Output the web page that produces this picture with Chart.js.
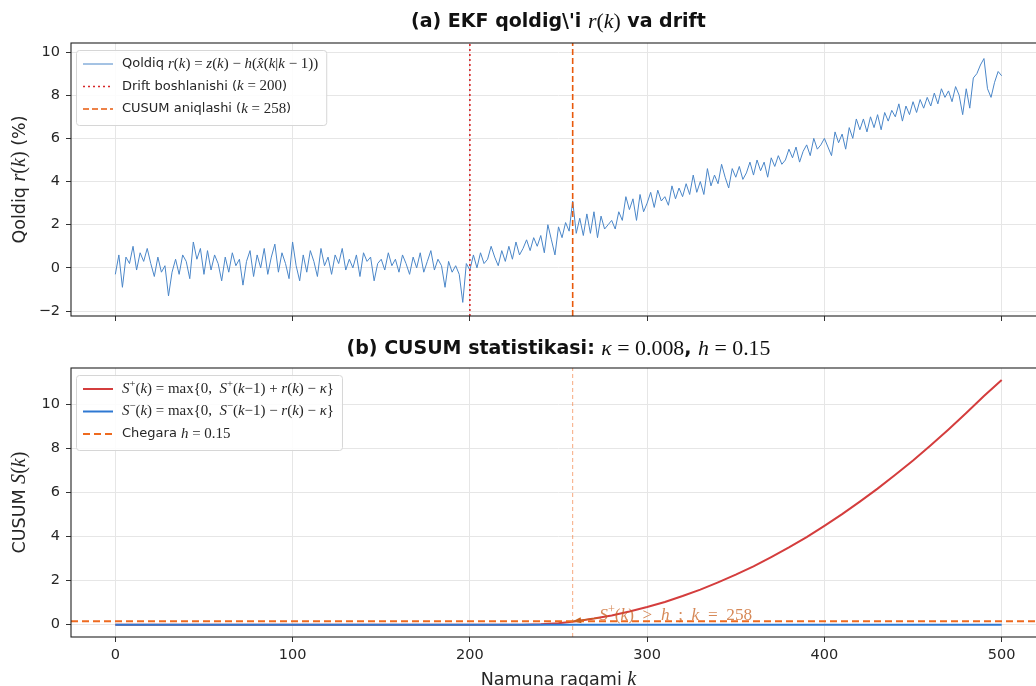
<!DOCTYPE html>
<html>
<head>
<meta charset="utf-8">
<title>EKF qoldig'i va CUSUM</title>
<script src="https://cdn.jsdelivr.net/npm/chart.js@4.4.1/dist/chart.umd.min.js"></script>
<style>
  html, body { margin: 0; padding: 0; background: #fff; overflow: hidden; width: 1036px; height: 686px; }
  #wrapA { position: absolute; left: 0; top: 0; }
  #wrapB { position: absolute; left: 0; top: 332px; }
</style>
</head>
<body>
<div id="wrapA"><canvas id="chartA" width="1070" height="332" style="width:1070px;height:332px"></canvas></div>
<div id="wrapB"><canvas id="chartB" width="1070" height="354" style="width:1070px;height:354px"></canvas></div>
<script>
(function () {
    "use strict";

    // ---- data ----
    var xTicks = [0, 100, 200, 300, 400, 500];
    var residualTicks = [-2, 0, 2, 4, 6, 8, 10];
    var cusumTicks = [0, 2, 4, 6, 8, 10];

    // residual r(k) in %, one value every 2 samples (k = 0, 2, ..., 500)
    var residualStep = 2;
    var residual = [
        -0.3, 0.6, -0.9, 0.5, 0.2, 1.0, -0.1, 0.7, 0.3, 0.9,
        0.2, -0.4, 0.5, -0.2, 0.1, -1.3, -0.2, 0.4, -0.3, 0.6,
        0.3, -0.5, 1.2, 0.4, 0.9, -0.3, 0.8, -0.1, 0.6, 0.2,
        -0.6, 0.5, -0.2, 0.7, 0.1, 0.4, -0.8, 0.3, 0.8, -0.4,
        0.6, 0.0, 0.9, -0.3, 0.5, 1.1, -0.2, 0.7, 0.2, -0.5,
        1.2, 0.1, -0.6, 0.6, -0.2, 0.8, 0.3, -0.4, 0.9, 0.1,
        0.5, -0.3, 0.6, 0.2, 0.9, -0.1, 0.4, 0.0, 0.6, -0.4,
        0.7, 0.3, 0.5, -0.6, 0.2, 0.4, -0.1, 0.7, 0.1, 0.4,
        -0.2, 0.6, 0.2, -0.3, 0.5, 0.0, 0.7, -0.2, 0.3, 0.8,
        -0.1, 0.4, 0.1, -0.9, 0.3, -0.2, 0.1, -0.3, -1.6, 0.2,
        -0.1, 0.6, 0.0, 0.7, 0.2, 0.4, 1.0, 0.5, 0.1, 0.8,
        0.3, 1.0, 0.4, 1.2, 0.6, 0.9, 1.3, 0.8, 1.4, 1.0,
        1.5, 0.7, 2.0, 1.3, 0.6, 1.9, 1.4, 2.1, 1.7, 3.1,
        1.6, 2.3, 1.5, 2.5, 1.6, 2.6, 1.4, 2.4, 1.8, 2.0,
        2.2, 1.8, 2.6, 2.2, 3.3, 2.7, 3.2, 2.2, 3.4, 2.6,
        3.0, 3.5, 2.8, 3.6, 3.1, 3.3, 2.9, 3.8, 3.2, 3.7,
        3.3, 3.9, 3.4, 4.3, 3.5, 4.0, 3.4, 4.6, 3.8, 4.3,
        3.9, 4.8, 4.2, 3.7, 4.6, 4.2, 4.7, 4.1, 4.4, 4.9,
        4.3, 5.0, 4.5, 4.9, 4.2, 5.1, 4.7, 5.2, 4.8, 5.0,
        5.5, 5.1, 5.6, 4.9, 5.4, 5.7, 5.2, 6.0, 5.5, 5.7,
        6.0, 5.6, 5.2, 6.3, 5.8, 6.2, 5.5, 6.5, 6.0, 6.9,
        6.4, 6.9, 6.3, 7.0, 6.5, 7.1, 6.4, 7.2, 6.8, 7.3,
        7.0, 7.6, 6.8, 7.5, 7.1, 7.7, 7.2, 7.8, 7.4, 7.9,
        7.5, 8.1, 7.6, 8.3, 7.9, 8.2, 7.7, 8.4, 8.0, 7.1,
        8.3, 7.4, 8.8, 9.0, 9.4, 9.7, 8.3, 7.9, 8.6, 9.1,
        8.9
    ];

    var driftK = 200;
    var detectK = 258;
    var threshold = 0.15;

    // CUSUM S+(k)
    var sPlusK = [0, 230, 240, 250, 260, 270, 280, 290, 300, 310, 320, 330, 340, 350, 360,
                  370, 380, 390, 400, 410, 420, 430, 440, 450, 460, 470, 480, 490, 500];
    var sPlus  = [0, 0, 0.02, 0.07, 0.16, 0.28, 0.42, 0.6, 0.8, 1.03, 1.3, 1.59, 1.92, 2.27, 2.65,
                  3.07, 3.51, 3.98, 4.49, 5.02, 5.59, 6.18, 6.81, 7.46, 8.15, 8.87, 9.62, 10.39, 11.12];
    // CUSUM S-(k)
    var sMinusK = [0, 500];
    var sMinus  = [0, 0];

    // ---- layout / style ----
    var xMin = -25, xMax = 525;
    var topYMin = -2.23, topYMax = 10.42;
    var botYMin = -0.56, botYMax = 11.66;
    var annotAt = [273, 0.45];

    var tickFont = { family: '"DejaVu Sans"', size: 14.5 };
    var gridColor = '#e6e6e6';
    var inkColor = '#262626';

    function pts(xs, ys) {
        return ys.map(function (v, i) { return { x: xs[i], y: v }; });
    }

    // Rich text: [kind, text], kind = b bold, s sans, i math italic, r math roman, p superscript
    function segFont(kind, size) {
        if (kind === 'b') return 'bold ' + size + 'px "DejaVu Sans"';
        if (kind === 's') return size + 'px "DejaVu Sans"';
        if (kind === 'i') return 'italic ' + (size * 1.15) + 'px "Liberation Serif"';
        if (kind === 'p') return (size * 0.82) + 'px "Liberation Serif"';
        return (size * 1.15) + 'px "Liberation Serif"';
    }
    function richWidth(ctx, segs, size) {
        var w = 0;
        segs.forEach(function (s) {
            ctx.font = segFont(s[0], size);
            w += ctx.measureText(s[1]).width;
        });
        return w;
    }
    function drawRich(ctx, segs, x, y, size, align, color) {
        var w = richWidth(ctx, segs, size);
        var cx = align === 'center' ? x - w / 2 : x;
        ctx.fillStyle = color;
        ctx.textBaseline = 'middle';
        ctx.textAlign = 'left';
        segs.forEach(function (s) {
            ctx.font = segFont(s[0], size);
            ctx.fillText(s[1], cx, s[0] === 'p' ? y - size * 0.38 : y);
            cx += ctx.measureText(s[1]).width;
        });
    }
    function drawRotated(ctx, segs, x, y, size) {
        ctx.save();
        ctx.translate(x, y);
        ctx.rotate(-Math.PI / 2);
        drawRich(ctx, segs, 0, 0, size, 'center', inkColor);
        ctx.restore();
    }

    function drawLegend(chart, items) {
        var ctx = chart.ctx, a = chart.chartArea, size = 13;
        var x0 = a.left + 5, y0 = a.top + 7, rowH = 22.5;
        var w = 0;
        items.forEach(function (it) { w = Math.max(w, richWidth(ctx, it.label, size)); });
        var bw = 46 + w + 8, bh = 30 + (items.length - 1) * rowH;
        ctx.save();
        ctx.beginPath();
        ctx.roundRect(x0 + 0.5, y0 + 0.5, bw, bh, 3);
        ctx.fillStyle = 'rgba(255,255,255,0.85)';
        ctx.fill();
        ctx.strokeStyle = '#d6d6d6';
        ctx.lineWidth = 1;
        ctx.stroke();
        items.forEach(function (it, n) {
            var ds = chart.data.datasets[it.ds];
            var yy = y0 + 14 + n * rowH;
            ctx.strokeStyle = ds.borderColor;
            ctx.lineWidth = ds.borderWidth;
            ctx.setLineDash(ds.borderDash || []);
            ctx.beginPath();
            ctx.moveTo(x0 + 7, yy);
            ctx.lineTo(x0 + 37, yy);
            ctx.stroke();
            ctx.setLineDash([]);
            drawRich(ctx, it.label, x0 + 46, yy, size, 'left', inkColor);
        });
        ctx.restore();
    }

    function drawFrame(chart) {
        var ctx = chart.ctx, a = chart.chartArea;
        ctx.save();
        ctx.strokeStyle = '#222';
        ctx.lineWidth = 1.1;
        ctx.strokeRect(a.left, a.top, a.right - a.left, a.bottom - a.top);
        ctx.restore();
    }

    function xAxis(labels, height) {
        return {
            type: 'linear', min: xMin, max: xMax,
            afterBuildTicks: function (s) { s.ticks = xTicks.map(function (v) { return { value: v }; }); },
            afterFit: function (s) { s.height = height; },
            grid: { color: gridColor, tickColor: '#333', tickLength: 5 },
            border: { display: false },
            ticks: {
                font: tickFont, color: inkColor, padding: 5, maxRotation: 0,
                callback: function (v) { return labels ? String(v) : ''; }
            }
        };
    }
    function yAxis(min, max, tickList) {
        return {
            min: min, max: max,
            afterBuildTicks: function (s) { s.ticks = tickList.map(function (v) { return { value: v }; }); },
            afterFit: function (s) { s.width = 71; },
            grid: { color: gridColor, tickColor: '#333', tickLength: 5 },
            border: { display: false },
            ticks: {
                font: tickFont, color: inkColor, padding: 6,
                callback: function (v) { return String(v).replace('-', '\u2212'); }
            }
        };
    }
    var baseOptions = {
        responsive: false, animation: false, events: [],
        plugins: { legend: { display: false }, tooltip: { enabled: false }, title: { display: false } },
        elements: { point: { radius: 0 }, line: { tension: 0 } }
    };

    // ---- (a) residual ----
    var decorA = {
        id: 'decorA',
        afterDraw: function (chart) {
            var ctx = chart.ctx, a = chart.chartArea;
            drawFrame(chart);
            drawLegend(chart, [
                { ds: 0, label: [['s', 'Qoldiq '], ['i', 'r'], ['r', '('], ['i', 'k'], ['r', ') = '], ['i', 'z'], ['r', '('], ['i', 'k'],
                                 ['r', ') \u2212 '], ['i', 'h'], ['r', '('], ['i', 'x\u0302'], ['r', '('], ['i', 'k'], ['r', '|'], ['i', 'k'], ['r', ' \u2212 1))']] },
                { ds: 1, label: [['s', 'Drift boshlanishi ('], ['i', 'k'], ['r', ' = 200'], ['s', ')']] },
                { ds: 2, label: [['s', 'CUSUM aniqlashi ('], ['i', 'k'], ['r', ' = 258'], ['s', ')']] }
            ]);
            drawRich(ctx, [['b', "(a) EKF qoldig\\'i "], ['i', 'r'], ['r', '('], ['i', 'k'], ['r', ')'], ['b', ' va drift']],
                (a.left + a.right) / 2, 22, 19, 'center', '#111');
            drawRotated(ctx, [['s', 'Qoldiq '], ['i', 'r'], ['r', '('], ['i', 'k'], ['r', ')'], ['s', ' (%)']],
                20, (a.top + a.bottom) / 2, 17.5);
        }
    };

    new Chart(document.getElementById('chartA'), {
        type: 'line',
        data: {
            datasets: [
                { data: residual.map(function (v, i) { return { x: i * residualStep, y: v }; }),
                  borderColor: '#4a86c8', borderWidth: 1, order: 3 },
                { data: pts([driftK, driftK], [topYMin, topYMax]),
                  borderColor: '#d62728', borderWidth: 1.6, borderDash: [2, 3], order: 2 },
                { data: pts([detectK, detectK], [topYMin, topYMax]),
                  borderColor: '#e8590c', borderWidth: 1.6, borderDash: [6, 3], order: 1 }
            ]
        },
        options: Object.assign({}, baseOptions, {
            layout: { padding: { left: 0, top: 43, right: 24, bottom: 0 } },
            scales: { x: xAxis(false, 16), y: yAxis(topYMin, topYMax, residualTicks) }
        }),
        plugins: [decorA]
    });

    // ---- (b) CUSUM ----
    var decorB = {
        id: 'decorB',
        afterDatasetsDraw: function (chart) {
            var ctx = chart.ctx, xs = chart.scales.x, ys = chart.scales.y;
            var px = xs.getPixelForValue(detectK), py = ys.getPixelForValue(threshold);
            var tx = xs.getPixelForValue(annotAt[0]), ty = ys.getPixelForValue(annotAt[1]);
            var col = '#c8601e';
            ctx.save();
            ctx.strokeStyle = col;
            ctx.fillStyle = col;
            ctx.lineWidth = 1.2;
            ctx.beginPath();
            ctx.moveTo(tx, ty + 3);
            ctx.lineTo(px, py);
            ctx.stroke();
            var ang = Math.atan2(py - ty - 3, px - tx);
            ctx.beginPath();
            ctx.moveTo(px, py);
            ctx.lineTo(px - 9 * Math.cos(ang - 0.35), py - 9 * Math.sin(ang - 0.35));
            ctx.lineTo(px - 9 * Math.cos(ang + 0.35), py - 9 * Math.sin(ang + 0.35));
            ctx.closePath();
            ctx.fill();
            ctx.globalAlpha = 0.75;
            drawRich(ctx, [['i', 'S'], ['p', '+'], ['r', '('], ['i', 'k'], ['r', ')  >  '], ['i', 'h'], ['r', '  ;  '], ['i', 'k'], ['r', '  =  258']],
                tx, ty + 1, 15, 'left', col);
            ctx.restore();
        },
        afterDraw: function (chart) {
            var ctx = chart.ctx, a = chart.chartArea;
            drawFrame(chart);
            drawLegend(chart, [
                { ds: 3, label: [['i', 'S'], ['p', '+'], ['r', '('], ['i', 'k'], ['r', ') = max{0,  '], ['i', 'S'], ['p', '+'], ['r', '('], ['i', 'k'],
                                 ['r', '\u22121) + '], ['i', 'r'], ['r', '('], ['i', 'k'], ['r', ') \u2212 '], ['i', '\u03ba'], ['r', '}']] },
                { ds: 2, label: [['i', 'S'], ['p', '\u2212'], ['r', '('], ['i', 'k'], ['r', ') = max{0,  '], ['i', 'S'], ['p', '\u2212'], ['r', '('], ['i', 'k'],
                                 ['r', '\u22121) \u2212 '], ['i', 'r'], ['r', '('], ['i', 'k'], ['r', ') \u2212 '], ['i', '\u03ba'], ['r', '}']] },
                { ds: 1, label: [['s', 'Chegara '], ['i', 'h'], ['r', ' = 0.15']] }
            ]);
            drawRich(ctx, [['b', '(b) CUSUM statistikasi: '], ['i', '\u03ba'], ['r', ' = 0.008'], ['b', ', '], ['i', 'h'], ['r', ' = 0.15']],
                (a.left + a.right) / 2, 17, 19, 'center', '#111');
            drawRotated(ctx, [['s', 'CUSUM '], ['i', 'S'], ['r', '('], ['i', 'k'], ['r', ')']],
                20, (a.top + a.bottom) / 2, 17.5);
            drawRich(ctx, [['s', 'Namuna raqami '], ['i', 'k']], (a.left + a.right) / 2, 348, 17.5, 'center', inkColor);
        }
    };

    new Chart(document.getElementById('chartB'), {
        type: 'line',
        data: {
            datasets: [
                { data: pts([detectK, detectK], [botYMin, botYMax]),
                  borderColor: 'rgba(240,110,40,0.6)', borderWidth: 1, borderDash: [4, 3], order: 0 },
                { data: pts([xMin, xMax], [threshold, threshold]),
                  borderColor: '#ee6a1f', borderWidth: 2, borderDash: [7, 4], order: 1 },
                { data: pts(sMinusK, sMinus),
                  borderColor: '#2e78d2', borderWidth: 2, order: 2 },
                { data: pts(sPlusK, sPlus),
                  borderColor: '#d43d3d', borderWidth: 2, order: 3 }
            ]
        },
        options: Object.assign({}, baseOptions, {
            layout: { padding: { left: 0, top: 36, right: 24, bottom: 0 } },
            scales: { x: xAxis(true, 49), y: yAxis(botYMin, botYMax, cusumTicks) }
        }),
        plugins: [decorB]
    });
})();
</script>
</body>
</html>
